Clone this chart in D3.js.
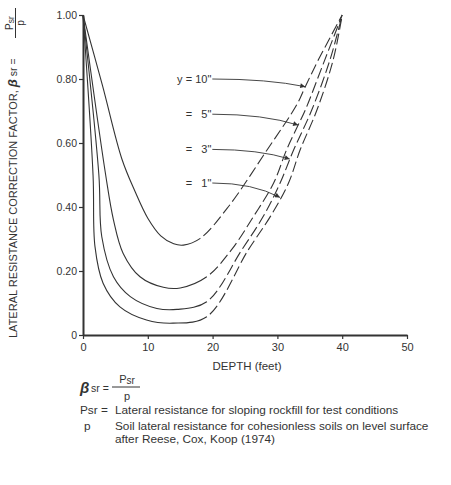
<!DOCTYPE html>
<html>
<head>
<meta charset="utf-8">
<script src="https://cdn.jsdelivr.net/npm/d3@7"></script>
<style>
  html, body { margin: 0; padding: 0; background: #fff; }
  svg { display: block; font-family: "Liberation Sans", Arial, Helvetica, sans-serif; }
</style>
</head>
<body>
<svg id="chart" width="451" height="485"></svg>
<script>
// ---------- DATA ----------
const depthTicks = [0, 10, 20, 30, 40, 50];
const valueTicks = [0, 0.2, 0.4, 0.6, 0.8, 1.0];
const valueTickLabels = ["0", "0.20", "0.40", "0.60", "0.80", "1.00"];

const seriesLabels = ['y = 10"', '=   5"', '=   3"', '=   1"'];

// y = 10"
const depth10 = [0, 3.0, 6.0, 8.0, 10.0, 12.0, 14.0, 15.5, 18.1, 22.4, 28.4, 33.0, 34.3, 36.3, 40];
const value10 = [1.0, 0.78, 0.55, 0.45, 0.365, 0.310, 0.285, 0.281, 0.302, 0.400, 0.578, 0.720, 0.776, 0.859, 1.0];
// y = 5"
const depth5 = [0, 3.5, 4.7, 6.2, 8.8, 12.4, 15.0, 19.1, 22.9, 26.3, 29.4, 31.4, 33.2, 34.3, 37.3, 40];
const value5 = [1.0, 0.50, 0.360, 0.255, 0.182, 0.149, 0.147, 0.182, 0.266, 0.370, 0.474, 0.578, 0.656, 0.703, 0.859, 1.0];
// y = 3"
const depth3 = [0, 2.45, 2.9, 4.7, 7.3, 11.4, 14.5, 19.1, 24.5, 27.8, 30.4, 32.5, 35.3, 38.1, 40];
const value3 = [1.0, 0.50, 0.307, 0.182, 0.120, 0.083, 0.080, 0.104, 0.266, 0.370, 0.474, 0.578, 0.703, 0.859, 1.0];
// y = 1"
const depth1 = [0, 1.55, 1.85, 3.1, 5.7, 9.8, 13.9, 19.1, 25.5, 28.9, 31.7, 33.5, 36.1, 38.6, 40];
const value1 = [1.0, 0.50, 0.276, 0.162, 0.088, 0.047, 0.037, 0.057, 0.266, 0.370, 0.474, 0.578, 0.703, 0.859, 1.0];

// depth where each curve changes from solid (measured) to dashed (extrapolated)
const solidEnd = [18.1, 19.1, 19.1, 19.1];

// arrow tips of the labels (depth, value) and label levels (value)
const arrowDepth = [34.3, 33.2, 31.9, 30.4];
const arrowValue = [0.776, 0.656, 0.55, 0.43];
const labelValue = [0.80, 0.69, 0.58, 0.475];
const labelDepth = 19.8;

// ---------- CHART ----------
const svg = d3.select("#chart");
const ink = "#333";

const x = d3.scaleLinear().domain([0, 50]).range([83, 407]);
const y = d3.scaleLinear().domain([0, 1]).range([335, 15]);

// axes
const yAxis = d3.axisLeft(y).tickValues(valueTicks)
  .tickFormat((d, i) => valueTickLabels[i]).tickSize(4).tickSizeOuter(0).tickPadding(2);
const xAxis = d3.axisBottom(x).tickValues(depthTicks).tickSize(4).tickSizeOuter(0).tickPadding(4);

const gy = svg.append("g").attr("transform", `translate(${x(0)},0)`).call(yAxis);
const gx = svg.append("g").attr("transform", `translate(0,${y(0)})`).call(xAxis);
[gx, gy].forEach(g => {
  g.select(".domain").attr("stroke", ink).attr("stroke-width", 2);
  g.selectAll(".tick line").attr("stroke", ink).attr("stroke-width", 1.2);
  g.selectAll(".tick text").attr("fill", ink).attr("font-size", 11)
   .attr("font-family", '"Liberation Sans", Arial, sans-serif');
});
gy.selectAll(".tick text").attr("font-size", 10.5);

// x axis title
svg.append("text").attr("x", (x(0) + x(50)) / 2 + 2).attr("y", 370)
  .attr("text-anchor", "middle").attr("font-size", 11.5).attr("fill", ink)
  .text("DEPTH (feet)");

// y axis title (rotated)
const yt = svg.append("g").attr("transform", "translate(17,0) rotate(-90)");
const ytext = yt.append("text").attr("x", -338).attr("y", 0)
  .attr("font-size", 11).attr("fill", ink);
ytext.append("tspan").text("LATERAL RESISTANCE CORRECTION FACTOR, ");
ytext.append("tspan").attr("font-weight", "bold").attr("font-style", "italic")
  .attr("font-size", 13).text("β");
ytext.append("tspan").attr("font-size", 10.5).text(" sr = ");
// fraction
yt.append("line").attr("x1", -38).attr("x2", -8).attr("y1", -1.5).attr("y2", -1.5)
  .attr("stroke", ink).attr("stroke-width", 1);
const fnum = yt.append("text").attr("x", -23).attr("y", -4.5).attr("text-anchor", "middle")
  .attr("font-size", 10).attr("fill", ink);
fnum.append("tspan").text("P");
fnum.append("tspan").attr("font-size", 8.5).attr("dy", 1).text("sr");
yt.append("text").attr("x", -23).attr("y", 7).attr("text-anchor", "middle")
  .attr("font-size", 10).attr("fill", ink).text("p");

// curves
const series = [
  { d: depth10, v: value10 },
  { d: depth5, v: value5 },
  { d: depth3, v: value3 },
  { d: depth1, v: value1 }
];
const line = d3.line().x(p => x(p[0])).y(p => y(p[1])).curve(d3.curveCatmullRom.alpha(0.5));

series.forEach((s, i) => {
  const pts = s.d.map((dd, k) => [dd, s.v[k]]);
  const path = svg.append("path").attr("d", line(pts)).attr("fill", "none")
    .attr("stroke", ink).attr("stroke-width", 1.1).attr("stroke-linecap", "butt");
  const node = path.node();
  const total = node.getTotalLength();
  const xs = x(solidEnd[i]);
  let lo = 0, hi = total;
  for (let k = 0; k < 40; k++) {
    const mid = (lo + hi) / 2;
    if (node.getPointAtLength(mid).x < xs) lo = mid; else hi = mid;
  }
  const solidLen = lo;
  const dash = 11, gap = 4;
  const arr = [solidLen, gap];
  let acc = solidLen + gap;
  while (acc < total + 20) { arr.push(dash, gap); acc += dash + gap; }
  path.attr("stroke-dasharray", arr.join(","));
});

// labels with arrows
const defs = svg.append("defs");
defs.append("marker").attr("id", "arr").attr("viewBox", "0 0 10 10")
  .attr("refX", 10).attr("refY", 5).attr("markerWidth", 7).attr("markerHeight", 5)
  .attr("markerUnits", "userSpaceOnUse").attr("orient", "auto")
  .append("path").attr("d", "M0,0 L10,5 L0,10 Z").attr("fill", ink);

seriesLabels.forEach((lab, i) => {
  const lx = x(labelDepth), ly = y(labelValue[i]);
  svg.append("text").attr("x", lx).attr("y", ly + 4).attr("text-anchor", "end")
    .attr("font-size", 11).attr("fill", ink).attr("xml:space", "preserve")
    .style("white-space", "pre").text(lab);
  const tx = x(arrowDepth[i]), ty = y(arrowValue[i]);
  const sx = lx + 1, sy = ly;
  svg.append("path")
    .attr("d", `M${sx},${sy} Q${sx + (tx - sx) * 0.6},${sy} ${tx},${ty}`)
    .attr("fill", "none").attr("stroke", ink).attr("stroke-width", 0.9)
    .attr("marker-end", "url(#arr)");
});

// ---------- notes below chart ----------
const notes = svg.append("g").attr("fill", ink);
notes.append("text").attr("x", 80).attr("y", 393).attr("font-size", 15)
  .attr("font-weight", "bold").attr("font-style", "italic").text("β");
notes.append("text").attr("x", 91).attr("y", 392).attr("font-size", 10.5).text("sr =");
notes.append("line").attr("x1", 112).attr("x2", 140).attr("y1", 387).attr("y2", 387)
  .attr("stroke", ink).attr("stroke-width", 1);
const nn = notes.append("text").attr("x", 127).attr("y", 383).attr("text-anchor", "middle").attr("font-size", 11);
nn.append("tspan").text("P");
nn.append("tspan").attr("font-size", 10).attr("dy", 1).text("sr");
notes.append("text").attr("x", 127).attr("y", 400).attr("text-anchor", "middle").attr("font-size", 11).text("p");

const noteSize = 11.8;
notes.append("text").attr("x", 80).attr("y", 414).attr("font-size", noteSize).text("Psr =");
notes.append("text").attr("x", 115).attr("y", 414).attr("font-size", noteSize)
  .text("Lateral resistance for sloping rockfill for test conditions");
notes.append("text").attr("x", 84).attr("y", 430).attr("font-size", noteSize).text("p");
notes.append("text").attr("x", 115).attr("y", 430).attr("font-size", noteSize)
  .text("Soil lateral resistance for cohesionless soils on level surface");
notes.append("text").attr("x", 115).attr("y", 443).attr("font-size", noteSize)
  .text("after Reese, Cox, Koop (1974)");
</script>
</body>
</html>
